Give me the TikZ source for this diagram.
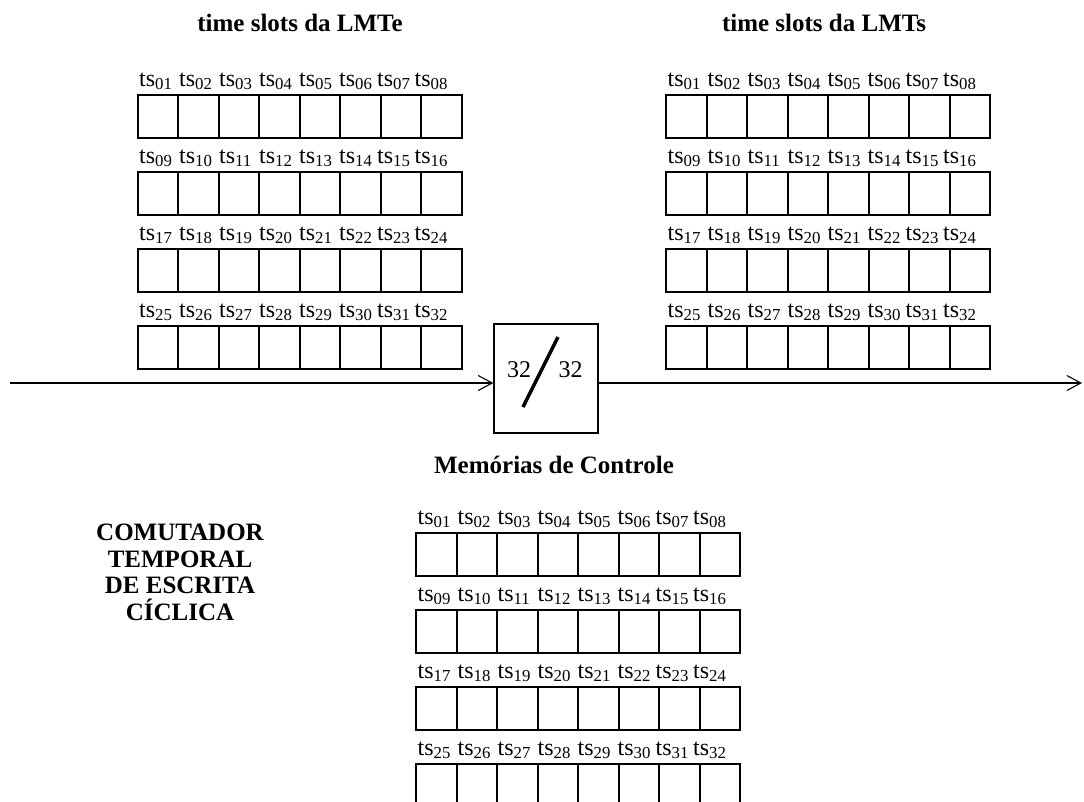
\documentclass[tikz,border=0pt]{standalone}
\usepackage{fontspec}
\setmainfont{Liberation Serif}
\usetikzlibrary{arrows.meta}
\begin{document}
\begin{tikzpicture}[x=1pt,y=-1pt,
  cell/.style={draw, line width=2pt, minimum width=40.5pt, minimum height=43pt, inner sep=0pt, outer sep=0pt, anchor=north west},
  tslab/.style={anchor=base west, inner sep=0pt, font=\fontsize{24}{28}\selectfont},
  ttl/.style={font=\fontsize{25}{29}\selectfont\bfseries, inner sep=0pt, anchor=base},
  num/.style={font=\fontsize{24}{28}\selectfont, inner sep=0pt, anchor=base},
  conn/.style={line width=1.1pt, -{Straight Barb[length=14pt,width=15pt,line width=1.1pt]}}]
\useasboundingbox (0,0) rectangle (1084,801);
\clip (0,0) rectangle (1084,801);
% titles
\node[ttl] (tLMTe) at (300,31) {time slots da LMTe};
\node[ttl] (tLMTs) at (824,31) {time slots da LMTs};
\node[ttl] (tMC) at (554,473) {Memórias de Controle};
\node[font=\fontsize{25}{26.5}\selectfont\bfseries, inner sep=0pt, anchor=north, align=center] (com) at (180,524) {COMUTADOR\\TEMPORAL\\DE ESCRITA\\CÍCLICA};
% grids
\foreach \g/\gx/\gy in {A/137.5/95, B/666/95, C/416/533} {
  \foreach \r in {0,...,3} {
    \foreach \c/\o in {0/1.5,1/41.5,2/81.5,3/121.5,4/161.5,5/201.5,6/239.5,7/277} {
      \pgfmathtruncatemacro\n{8*\r+\c+1}
      \node[cell] (\g\r\c) at ({\gx+40.5*\c},{\gy+77*\r}) {};
      \node[tslab] (\g l\r\c) at ({\gx+\o},{\gy+77*\r-9}) {ts\textsubscript{\ifnum\n<10 0\fi\n}};
    }
  }
}
% switch box
\node[draw, line width=1.3pt, minimum width=104pt, minimum height=109pt, inner sep=0pt] (sw) at (546,378.5) {};
\node[num] (n1) at (519,377) {32};
\node[num] (n2) at (570.5,377) {32};
\draw[line width=3.5pt] (523,407) -- (558,337);
% connectors
\coordinate (in) at (10,383);
\coordinate (out) at (1082,383);
\draw[conn] (in) -- (in -| sw.west);
\draw[conn] (out -| sw.east) -- (out);
\end{tikzpicture}
\end{document}
